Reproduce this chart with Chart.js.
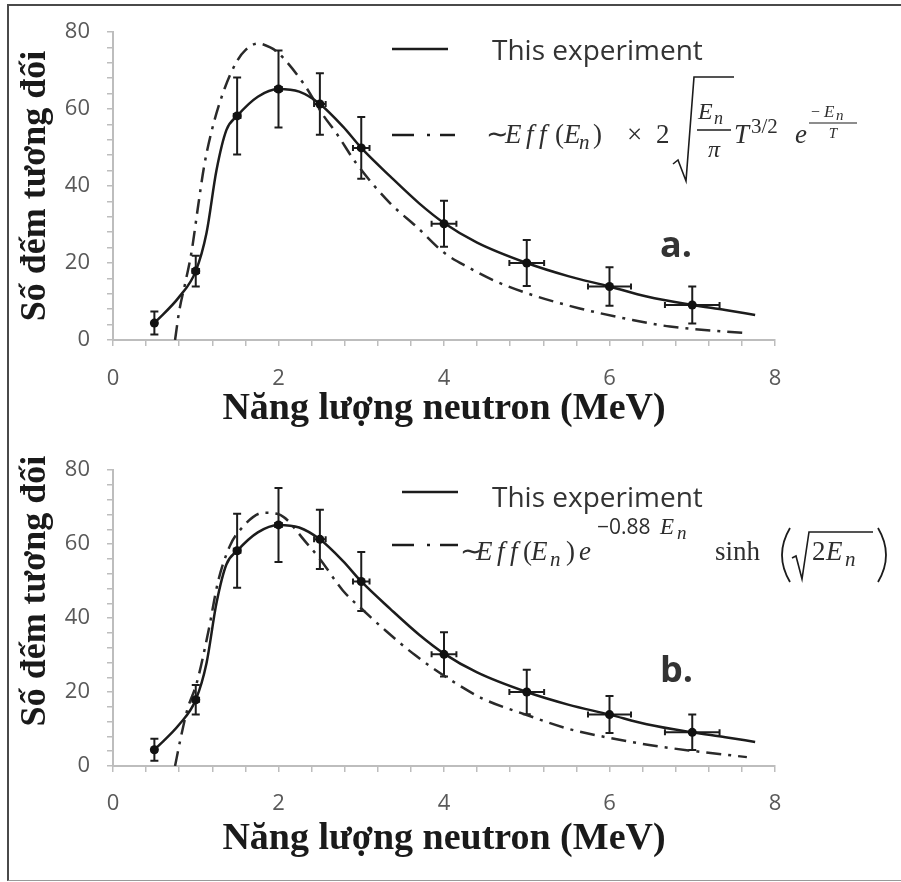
<!DOCTYPE html>
<html>
<head>
<meta charset="utf-8">
<script src="https://cdn.jsdelivr.net/npm/chart.js@4.4.1/dist/chart.umd.min.js"></script>
<style>
html, body { margin: 0; padding: 0; background: #fff; }
#wrap { position: relative; width: 901px; height: 882px; overflow: hidden; background: #fff; }
#frame { position: absolute; left: 7px; top: 4px; width: 900px; height: 874px;
  border-left: 2px solid #4a4a4a; border-top: 2px solid #4a4a4a; border-bottom: 1px solid #9a9a9a; }
canvas { position: absolute; left: 0; }
#chartA { top: 0; }
#chartB { top: 440px; }
</style>
</head>
<body>
<div id="wrap">
  <div id="frame"></div>
  <canvas id="chartA" width="901" height="440"></canvas>
  <canvas id="chartB" width="901" height="442"></canvas>
</div>
<script>
// measured points (same in both panels)
const energy    = [0.5, 1, 1.5, 2, 2.5, 3, 4, 5, 6, 7];
const counts    = [4.4, 17.9, 58.2, 65.2, 61.3, 49.9, 30.2, 20.0, 13.9, 9.1];
const countErr  = [3, 4, 10, 10, 8, 8, 6, 6, 5, 4.8];
const energyErr = [0.03, 0.04, 0.04, 0.04, 0.07, 0.1, 0.15, 0.21, 0.26, 0.33];

// solid curve "This experiment"
const fitE      = [0.5, 0.8, 1.0, 1.13, 1.25, 1.37, 1.5, 1.75, 2.0, 2.25, 2.5, 2.78, 3.0, 3.35, 3.7, 4.0, 4.4, 5.0, 5.5, 6.0, 6.45, 7.0, 7.4, 7.76];
const fitCounts = [4.4, 11.2, 17.9, 27.8, 44.0, 54.5, 58.2, 63.2, 65.2, 64.5, 61.3, 55.4, 49.9, 42.5, 35.5, 30.4, 25.3, 20.0, 16.6, 13.9, 11.3, 9.1, 7.8, 6.5];

// dash-dot curve, panel a (Maxwell)
const maxwellE      = [0.75, 0.8, 0.87, 0.95, 1.03, 1.1, 1.19, 1.35, 1.5, 1.6, 1.75, 1.9, 1.98, 2.3, 2.54, 2.7, 2.94, 3.35, 3.67, 4.0, 4.3, 4.62, 5.08, 5.64, 6.28, 6.73, 7.64];
const maxwellCounts = [0, 7.5, 14.5, 23, 35, 45, 54.1, 65.4, 72.5, 75.3, 77.0, 76.0, 74.9, 66.7, 58.4, 53.7, 45.9, 35.5, 29.4, 22.7, 18.8, 15.3, 11.6, 8.2, 5.2, 3.5, 1.8];

// dash-dot curve, panel b (Watt)
const wattE      = [0.75, 0.81, 0.9, 1.01, 1.15, 1.27, 1.41, 1.53, 1.82, 2.0, 2.34, 2.5, 2.78, 3.02, 3.3, 3.65, 4.03, 4.47, 5.0, 5.48, 6.0, 6.5, 7.0, 7.66];
const wattCounts = [0, 6.7, 15.4, 22.3, 36.1, 49.9, 59.4, 63.7, 68.5, 68.1, 60.3, 56.0, 47.4, 42.2, 36.5, 30.0, 24.0, 18.2, 13.8, 10.2, 7.6, 5.6, 4.1, 2.4];

const xMajor = [0, 2, 4, 6, 8];
const yMajor = [0, 20, 40, 60, 80];
const legendText = 'This experiment';
const xTitle = 'Năng lượng neutron (MeV)';
const yTitle = 'Số đếm tương đối';

const SERIF = '"Liberation Serif", "Times New Roman", serif';
const SANS = '"Open Sans", "DejaVu Sans", sans-serif';
const INK = '#1c1c1c';
const AXIS = '#bdbdbd';

function toPts(xs, ys) {
  return xs.map((x, i) => ({ x: x, y: ys[i] }));
}

function put(ctx, s, x, y, font, align) {
  ctx.font = font;
  ctx.textAlign = align || 'left';
  ctx.textBaseline = 'alphabetic';
  ctx.fillText(s, x, y);
}

// draw a run of glyphs, each at its own x
function glyphs(ctx, list) {
  list.forEach((g) => put(ctx, g[0], g[1], g[2], g[3]));
}

const errorBars = {
  id: 'errorBars',
  beforeDatasetsDraw(chart) {
    const ctx = chart.ctx, xs = chart.scales.x, ys = chart.scales.y;
    ctx.save();
    ctx.strokeStyle = INK;
    ctx.lineWidth = 2;
    energy.forEach((e, i) => {
      const px = xs.getPixelForValue(e);
      const py = ys.getPixelForValue(counts[i]);
      const top = ys.getPixelForValue(counts[i] + countErr[i]);
      const bot = ys.getPixelForValue(counts[i] - countErr[i]);
      const l = xs.getPixelForValue(e - energyErr[i]);
      const r = xs.getPixelForValue(e + energyErr[i]);
      ctx.beginPath();
      ctx.moveTo(px, top); ctx.lineTo(px, bot);
      ctx.moveTo(px - 4, top); ctx.lineTo(px + 4, top);
      ctx.moveTo(px - 4, bot); ctx.lineTo(px + 4, bot);
      ctx.moveTo(l, py); ctx.lineTo(r, py);
      ctx.moveTo(l, py - 3); ctx.lineTo(l, py + 3);
      ctx.moveTo(r, py - 3); ctx.lineTo(r, py + 3);
      ctx.stroke();
    });
    ctx.restore();
  }
};

function drawFormulaA(ctx) {
  const it = 'italic 27px ' + SERIF, up = '27px ' + SERIF;
  const b = 143;
  glyphs(ctx, [
    ['\u223C', 486, b, up], ['E', 505, b, it], ['f', 526, b, it], ['f', 539, b, it],
    ['(', 555, b, up], ['E', 564, b, it], ['n', 579, b + 6, 'italic 21px ' + SERIF], [')', 593, b, up],
    ['\u00D7', 627, b, up], ['2', 656, b, up]
  ]);
  ctx.lineWidth = 1.6;
  ctx.beginPath();
  ctx.moveTo(673, 164); ctx.lineTo(678, 160); ctx.lineTo(686, 181);
  ctx.lineTo(694, 77); ctx.lineTo(734, 77);
  ctx.stroke();
  put(ctx, 'E', 698, 119, 'italic 24px ' + SERIF);
  put(ctx, 'n', 714, 124, 'italic 18px ' + SERIF);
  ctx.beginPath(); ctx.moveTo(697, 130); ctx.lineTo(731, 130); ctx.stroke();
  put(ctx, '\u03C0', 714, 157, 'italic 24px ' + SERIF, 'center');
  put(ctx, 'T', 734, b, it);
  put(ctx, '3/2', 751, 133, '21px ' + SERIF);
  put(ctx, 'e', 795, b, it);
  put(ctx, '\u2212', 811, 117, '16px ' + SERIF);
  put(ctx, 'E', 824, 117, 'italic 17px ' + SERIF);
  put(ctx, 'n', 836, 120, 'italic 15px ' + SERIF);
  ctx.lineWidth = 1.2;
  ctx.beginPath(); ctx.moveTo(809, 123); ctx.lineTo(857, 123); ctx.stroke();
  put(ctx, 'T', 833, 138, 'italic 15px ' + SERIF, 'center');
}

function drawFormulaB(ctx) {
  const it = 'italic 27px ' + SERIF, up = '27px ' + SERIF;
  const b = 120;
  glyphs(ctx, [
    ['\u223C', 460, b, up], ['E', 476, b, it], ['f', 497, b, it], ['f', 510, b, it],
    ['(', 523, b, up], ['E', 531, b, it], ['n', 550, b + 6, 'italic 21px ' + SERIF], [')', 566, b, up],
    ['e', 579, b, it],
    ['\u22120.88', 597, 94, '21px ' + SANS],
    ['E', 660, 94, 'italic 23px ' + SERIF], ['n', 677, 99, 'italic 19px ' + SERIF],
    ['sinh', 715, b, up]
  ]);
  ctx.lineWidth = 1.8;
  ctx.beginPath();
  ctx.moveTo(790, 88); ctx.quadraticCurveTo(774, 115, 790, 142);
  ctx.moveTo(878, 88); ctx.quadraticCurveTo(894, 115, 878, 142);
  ctx.stroke();
  ctx.lineWidth = 1.6;
  ctx.beginPath();
  ctx.moveTo(792, 118); ctx.lineTo(796, 116); ctx.lineTo(802, 139);
  ctx.lineTo(809, 92); ctx.lineTo(873, 92);
  ctx.stroke();
  glyphs(ctx, [
    ['2', 812, b, up], ['E', 826, b, it], ['n', 845, b + 6, 'italic 21px ' + SERIF]
  ]);
}

function makePanel(canvasId, cfg) {
  const annotations = {
    id: 'annotations',
    afterDraw(chart) {
      const ctx = chart.ctx;
      ctx.save();
      ctx.fillStyle = '#333';
      ctx.strokeStyle = INK;
      // legend samples
      ctx.lineWidth = 2.5;
      ctx.beginPath();
      ctx.moveTo(cfg.solidLine[0], cfg.solidLine[2]); ctx.lineTo(cfg.solidLine[1], cfg.solidLine[2]);
      ctx.stroke();
      ctx.setLineDash([22, 13, 3, 10]);
      ctx.beginPath();
      ctx.moveTo(392, cfg.dashY); ctx.lineTo(cfg.dashEnd, cfg.dashY);
      ctx.stroke();
      ctx.setLineDash([]);
      put(ctx, legendText, 492, cfg.textBase, '28px ' + SANS);
      ctx.fillStyle = '#2e2e2e';
      cfg.formula(ctx);
      ctx.fillStyle = '#333';
      put(ctx, cfg.tag, 660, cfg.tagBase, 'bold 36px ' + SANS);
      ctx.restore();
    }
  };

  return new Chart(document.getElementById(canvasId), {
    type: 'scatter',
    data: {
      datasets: [{
        label: 'points',
        data: toPts(energy, counts),
        pointRadius: 4.5,
        pointBackgroundColor: '#111',
        pointBorderWidth: 0,
        showLine: false
      }, {
        label: legendText,
        data: toPts(fitE, fitCounts),
        showLine: true,
        borderColor: INK,
        borderWidth: 2.5,
        pointRadius: 0,
        cubicInterpolationMode: 'monotone'
      }, {
        label: 'model',
        data: toPts(cfg.modelE, cfg.modelCounts),
        showLine: true,
        borderColor: '#2a2a2a',
        borderWidth: 2.5,
        borderDash: [15, 7, 3, 7],
        pointRadius: 0,
        cubicInterpolationMode: 'monotone'
      }]
    },
    options: {
      responsive: false,
      animation: false,
      events: [],
      layout: { padding: { left: 0, right: 126, top: cfg.padTop, bottom: cfg.padBottom } },
      plugins: { legend: { display: false }, tooltip: { enabled: false } },
      scales: {
        x: {
          type: 'linear', min: 0, max: 8,
          afterFit: (s) => { s.height = cfg.xHeight; },
          grid: { drawOnChartArea: false, tickLength: 6, color: AXIS, lineWidth: 1.5 },
          border: { color: AXIS, width: 2 },
          ticks: {
            stepSize: 0.4, autoSkip: false, maxRotation: 0, padding: cfg.xTickPad,
            color: '#595959', font: { family: SANS, size: 22, lineHeight: 1.2 },
            callback: (v) => {
              const m = xMajor.find((t) => Math.abs(t - v) < 1e-6);
              return m === undefined ? '' : String(m);
            }
          },
          title: {
            display: true, text: xTitle, color: '#1a1a1a',
            font: { family: SERIF, size: 38, weight: 'bold', lineHeight: 1.2 },
            padding: { top: 0, bottom: cfg.xTitlePad }
          }
        },
        y: {
          type: 'linear', min: 0, max: 80,
          afterFit: (s) => { s.width = 113; },
          grid: { drawOnChartArea: false, tickLength: 6, color: AXIS, lineWidth: 1.5 },
          border: { color: AXIS, width: 2 },
          ticks: {
            stepSize: 4, autoSkip: false, padding: 17,
            color: '#595959', font: { family: SANS, size: 22, lineHeight: 1.2 },
            callback: (v) => {
              const m = yMajor.find((t) => Math.abs(t - v) < 1e-6);
              return m === undefined ? '' : String(m);
            }
          },
          title: {
            display: true, text: '\u00A0'.repeat(cfg.yTitleShift) + yTitle, color: '#1a1a1a',
            font: { family: SERIF, size: 36, weight: 'bold', lineHeight: 1.2 },
            padding: { top: 14, bottom: 0 }
          }
        }
      }
    },
    plugins: [errorBars, annotations]
  });
}

makePanel('chartA', {
  modelE: maxwellE, modelCounts: maxwellCounts,
  padTop: 32, padBottom: 5, xHeight: 95, xTickPad: 20, xTitlePad: 3, yTitleShift: 0,
  solidLine: [392, 448, 49], dashY: 135, dashEnd: 455, textBase: 60,
  formula: drawFormulaA, tag: 'a.', tagBase: 257
});

makePanel('chartB', {
  modelE: wattE, modelCounts: wattCounts,
  padTop: 17, padBottom: 16, xHeight: 100, xTickPad: 19, xTitlePad: 4, yTitleShift: 6,
  solidLine: [402, 458, 52], dashY: 105, dashEnd: 458, textBase: 67,
  formula: drawFormulaB, tag: 'b.', tagBase: 242
});
</script>
</body>
</html>
